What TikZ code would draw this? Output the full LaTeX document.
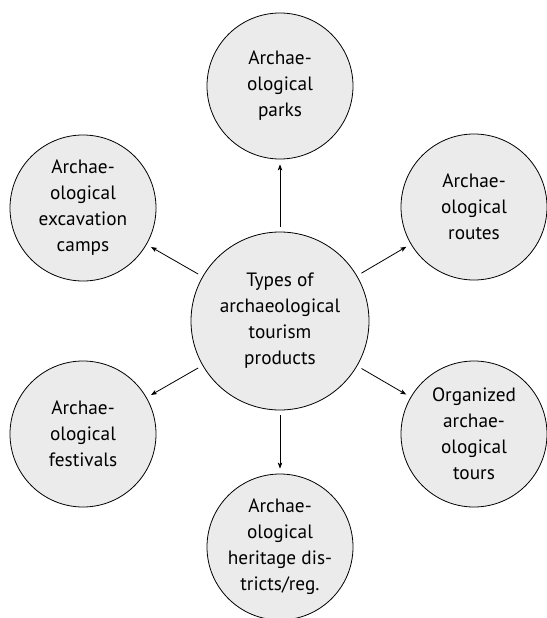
\documentclass[tikz,border=0pt]{standalone}
\usepackage{fontspec}
\setmainfont{PT Sans}
\usetikzlibrary{arrows.meta}
\definecolor{circfill}{RGB}{235,235,235}
\tikzset{
  bubble/.style={circle, draw=black, line width=0.8pt, fill=circfill, align=center,
    inner sep=0pt, font=\fontsize{19.3}{26}\selectfont},
  big/.style={bubble, minimum size=178pt},
  small/.style={bubble, minimum size=146pt},
  link/.style={line width=0.8pt, -{Stealth[length=6pt,width=4.5pt,inset=1.5pt]},
    shorten <=5pt, shorten >=5pt}
}
\begin{document}
\begin{tikzpicture}[x=1pt,y=-1pt]
\useasboundingbox (0,0) rectangle (546,618);
\node[big] (C) at (280,321) {Types of\\archaeological\\tourism\\products};
\node[small] (P) at (280,86) {Archae-\\ological\\parks};
\node[small] (E) at (83,208) {Archae-\\ological\\excavation\\camps};
\node[small] (R) at (474,207) {Archae-\\ological\\routes};
\node[small] (F) at (83,434) {Archae-\\ological\\festivals};
\node[small] (T) at (474,434) {Organized\\archae-\\ological\\tours};
\node[small] (H) at (280,547) {Archae-\\ological\\heritage dis-\\tricts/reg.};
\draw[link] (C) -- (P);
\draw[link] (C) -- (E);
\draw[link] (C) -- (R);
\draw[link] (C) -- (F);
\draw[link] (C) -- (T);
\draw[link] (C) -- (H);
\end{tikzpicture}
\end{document}
